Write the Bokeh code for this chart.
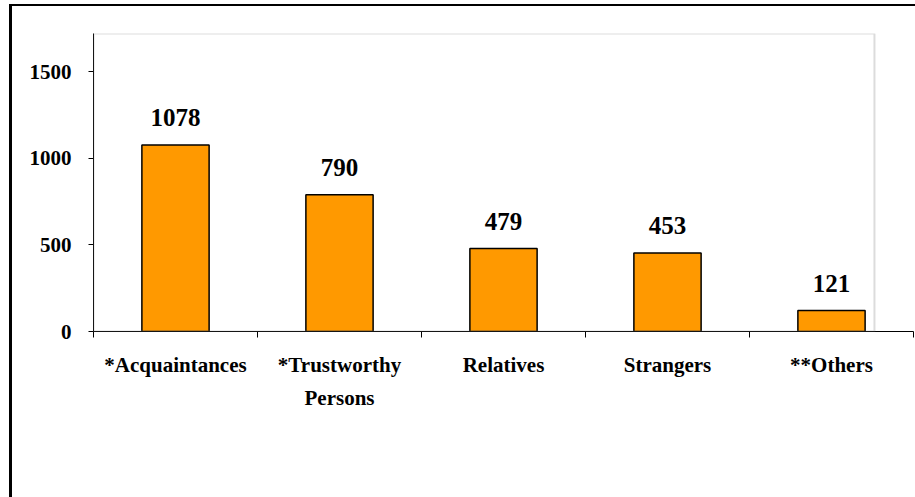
from bokeh.plotting import figure
from bokeh.models import ColumnDataSource, FixedTicker, Range1d, BoxAnnotation
from bokeh.core.properties import value
from bokeh.embed import file_html
from bokeh.resources import INLINE

categories = ["*Acquaintances", "*Trustworthy\nPersons", "Relatives", "Strangers", "**Others"]
counts = [1078, 790, 479, 453, 121]
y_ticks = [0, 500, 1000, 1500]

FONT = "'Liberation Serif', 'Times New Roman', serif"
n = len(categories)
x_pos = list(range(n))
src = ColumnDataSource(dict(x=x_pos, top=counts, label=[str(c) for c in counts]))

p = figure(width=915, height=497, output_backend="svg", toolbar_location=None,
           x_range=Range1d(-0.5, n - 0.5), y_range=Range1d(0, 1722),
           min_border_left=93, min_border_right=2, min_border_top=33, min_border_bottom=166)

p.border_fill_color = None
p.background_fill_color = "white"
p.outline_line_color = None
p.styles = {"background": "linear-gradient(#000,#000) 9px 4px / 3px 100% no-repeat, "
                          "linear-gradient(#000,#000) 9px 4px / 100% 2px no-repeat, #ffffff"}
p.xgrid.visible = False
p.ygrid.visible = False

# plot-area border (gray)
p.add_layout(BoxAnnotation(left=-0.5, right=4.262, bottom=0, top=1722,
                           fill_color=None, fill_alpha=0, line_color="#8c8c8c", line_width=2))

p.vbar(x="x", top="top", width=0.41, bottom=0, source=src,
       fill_color="#FF9900", line_color="black", line_width=1.5)

p.text(x="x", y="top", text="label", source=src, text_align="center", text_baseline="bottom",
       y_offset=-19, text_font=value(FONT), text_font_size="25px", text_font_style="bold",
       text_color="black")

xa = p.xaxis[0]
xa.ticker = FixedTicker(ticks=x_pos, minor_ticks=[i - 0.5 for i in range(n + 1)])
xa.major_label_overrides = {i: c for i, c in enumerate(categories)}
xa.major_tick_out = 0
xa.major_tick_in = 0
xa.minor_tick_out = 6
xa.minor_tick_in = 0
xa.minor_tick_line_color = "black"
xa.axis_line_color = "black"
xa.major_label_standoff = 15
xa.major_label_text_font = FONT
xa.major_label_text_font_size = "21px"
xa.major_label_text_font_style = "bold"
xa.major_label_text_color = "black"
xa.major_label_text_line_height = 1.4

ya = p.yaxis[0]
ya.ticker = FixedTicker(ticks=y_ticks, minor_ticks=[])
ya.major_tick_out = 5
ya.major_tick_in = 0
ya.axis_line_color = "black"
ya.major_tick_line_color = "black"
ya.major_label_standoff = 17
ya.major_label_text_font = FONT
ya.major_label_text_font_size = "21px"
ya.major_label_text_font_style = "bold"
ya.major_label_text_color = "black"

open("out.html", "w").write(file_html(p, INLINE))
